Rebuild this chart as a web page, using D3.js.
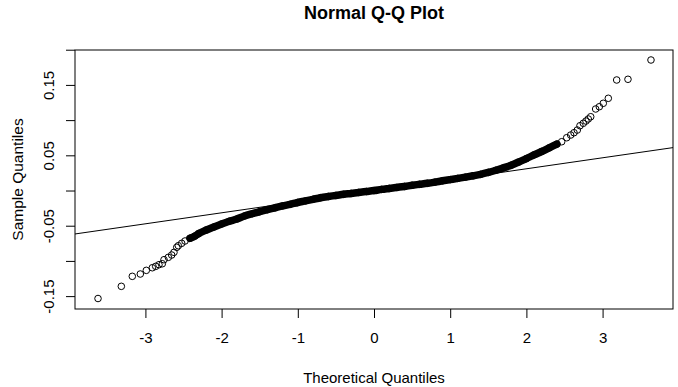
<!DOCTYPE html>
<html>
<head>
<meta charset="utf-8">
<script src="https://cdn.jsdelivr.net/npm/d3@7"></script>
<style>
body { margin: 0; background: #fff; }
text { font-family: "Liberation Sans", Arial, sans-serif; fill: #000; }
</style>
</head>
<body>
<div id="chart_area"></div>
<script>

// theoretical quantiles (x) and sample quantiles (y)
var theoretical = [
	-3.622, -3.316, -3.172, -3.067, -2.988, -2.909, -2.865, -2.822, -2.778, -2.756,
	-2.699, -2.655, -2.625, -2.589, -2.568, -2.524, -2.480, -2.415, -2.349,
	-2.3, -2.2, -2.1, -2.0, -1.9, -1.8, -1.7, -1.6, -1.5, -1.4, -1.3, -1.2, -1.1,
	-1.0, -0.9, -0.8, -0.7, -0.6, -0.5, -0.4, -0.3, -0.2, -0.1, 0.0,
	0.1, 0.2, 0.3, 0.4, 0.5, 0.6, 0.7, 0.8, 0.9, 1.0, 1.1, 1.2, 1.3, 1.4, 1.5,
	1.6, 1.7, 1.8, 1.9, 2.0, 2.1, 2.2, 2.3, 2.4,
	2.463, 2.529, 2.581, 2.625, 2.668, 2.703, 2.747, 2.782, 2.812, 2.844,
	2.909, 2.957, 3.009, 3.075, 3.185, 3.333, 3.635
];
var sample = [
	-0.1534, -0.1361, -0.1219, -0.1186, -0.1134, -0.1097, -0.1077, -0.1054, -0.1040, -0.0983,
	-0.0949, -0.0916, -0.0878, -0.0807, -0.0784, -0.0750, -0.0717, -0.0679, -0.0646,
	-0.0612, -0.0561, -0.0517, -0.0475, -0.0437, -0.0405, -0.0362, -0.0330, -0.0301, -0.0273, -0.0246, -0.0219, -0.0196,
	-0.0170, -0.0148, -0.0125, -0.0102, -0.0085, -0.0070, -0.0054, -0.0041, -0.0027, -0.0014, -0.0001,
	0.0016, 0.0030, 0.0044, 0.0058, 0.0074, 0.0088, 0.0102, 0.0119, 0.0138, 0.0155, 0.0172, 0.0190, 0.0209, 0.0230, 0.0257,
	0.0288, 0.0322, 0.0359, 0.0405, 0.0453, 0.0506, 0.0554, 0.0607, 0.0660,
	0.0693, 0.0750, 0.0788, 0.0821, 0.0859, 0.0920, 0.0955, 0.0987, 0.1016, 0.1048,
	0.1158, 0.1190, 0.1239, 0.1310, 0.1570, 0.1580, 0.1854
];

// range where points pile up into a solid band
var denseRange = [-2.42, 2.41];

// qqline (through the quartiles)
var lineIntercept = -0.0004;
var lineSlope = 0.01563;

var xTicks = [-3, -2, -1, 0, 1, 2, 3];
var xTickLabels = ["-3", "-2", "-1", "0", "1", "2", "3"];
var yTicks = [-0.15, -0.10, -0.05, 0, 0.05, 0.10, 0.15, 0.20];
var yTickLabels = ["-0.15", "", "-0.05", "", "0.05", "", "0.15", ""];

var titleText = "Normal Q-Q Plot";
var xLabel = "Theoretical Quantiles";
var yLabel = "Sample Quantiles";

var frame_width = 678;
var frame_height = 387;
var margin = {top: 50, right: 5, bottom: 78, left: 75};
var canvas_width = frame_width - margin.left - margin.right;
var canvas_height = frame_height - margin.top - margin.bottom;

var frame = d3.select("#chart_area").append("svg")
	.attr("width", frame_width)
	.attr("height", frame_height);

var canvas = frame.append("g")
	.attr("transform", "translate(" + margin.left + "," + margin.top + ")");

var xScale = d3.scaleLinear().domain([-3.924, 3.924]).range([0, canvas_width]);
var yScale = d3.scaleLinear().domain([-0.1683, 0.1996]).range([canvas_height, 0]);

var points = theoretical.map(function (t, i) { return {x: t, y: sample[i]}; });

// clip for the reference line
frame.append("clipPath").attr("id", "plot_clip")
	.append("rect")
	.attr("width", canvas_width)
	.attr("height", canvas_height);

// x axis
var xAxis = d3.axisBottom(xScale)
	.tickValues(xTicks)
	.tickFormat(function (d, i) { return xTickLabels[i]; })
	.tickSize(9)
	.tickSizeOuter(0);

var gx = canvas.append("g")
	.attr("class", "x axis")
	.attr("transform", "translate(0," + canvas_height + ")")
	.call(xAxis);
gx.select(".domain").remove();
gx.selectAll("line").attr("stroke", "#000");
gx.selectAll("text")
	.attr("y", 34)
	.attr("dy", 0)
	.style("font-size", "15px");

// y axis, labels turned like R does
var yAxis = d3.axisLeft(yScale)
	.tickValues(yTicks)
	.tickFormat(function (d, i) { return yTickLabels[i]; })
	.tickSize(9)
	.tickSizeOuter(0);

var gy = canvas.append("g")
	.attr("class", "y axis")
	.call(yAxis);
gy.select(".domain").remove();
gy.selectAll("line").attr("stroke", "#000");
gy.selectAll("text")
	.attr("transform", "rotate(-90)")
	.attr("x", 0)
	.attr("y", -21.5)
	.attr("dy", 0)
	.attr("text-anchor", "middle")
	.style("font-size", "15px");

// the box
canvas.append("rect")
	.attr("width", canvas_width)
	.attr("height", canvas_height)
	.attr("fill", "none")
	.attr("stroke", "#000")
	.attr("stroke-width", 1);

// overplotted middle section
var dense = points.filter(function (d) { return d.x >= denseRange[0] && d.x <= denseRange[1]; });
canvas.append("path")
	.datum(dense)
	.attr("fill", "none")
	.attr("stroke", "#000")
	.attr("stroke-width", 7.5)
	.attr("stroke-linecap", "round")
	.attr("d", d3.line()
		.x(function (d) { return xScale(d.x); })
		.y(function (d) { return yScale(d.y); })
		.curve(d3.curveMonotoneX));

canvas.append("g").selectAll("circle")
	.data(points)
	.enter().append("circle")
	.attr("cx", function (d) { return xScale(d.x); })
	.attr("cy", function (d) { return yScale(d.y); })
	.attr("r", 3.3)
	.attr("fill", "none")
	.attr("stroke", "#000")
	.attr("stroke-width", 1);

// qqline
var xd = xScale.domain();
canvas.append("line")
	.attr("clip-path", "url(#plot_clip)")
	.attr("x1", xScale(xd[0]))
	.attr("y1", yScale(lineIntercept + lineSlope * xd[0]))
	.attr("x2", xScale(xd[1]))
	.attr("y2", yScale(lineIntercept + lineSlope * xd[1]))
	.attr("stroke", "#000")
	.attr("stroke-width", 1);

// titles
frame.append("text")
	.attr("x", margin.left + canvas_width / 2)
	.attr("y", 18.5)
	.attr("text-anchor", "middle")
	.style("font-size", "18px")
	.style("font-weight", "bold")
	.text(titleText);

frame.append("text")
	.attr("x", margin.left + canvas_width / 2)
	.attr("y", 383)
	.attr("text-anchor", "middle")
	.style("font-size", "15px")
	.text(xLabel);

frame.append("text")
	.attr("transform", "translate(23," + (margin.top + canvas_height / 2) + ") rotate(-90)")
	.attr("text-anchor", "middle")
	.style("font-size", "15.5px")
	.text(yLabel);

</script>
</body>
</html>
